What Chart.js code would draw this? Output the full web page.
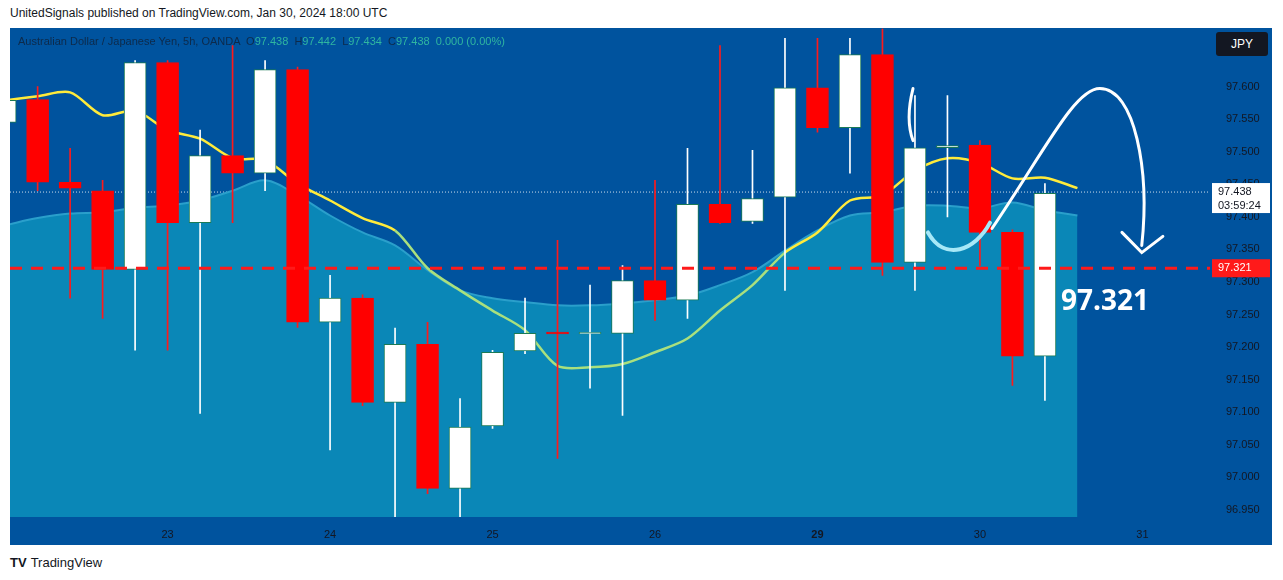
<!DOCTYPE html>
<html lang="en">
<head>
<meta charset="UTF-8">
<title>AUDJPY 5h</title>
<style>
  body { margin:0; background:#fff; font-family:"Liberation Sans", Arial, sans-serif; }
  #page { position:relative; width:1283px; height:580px; }
  #title { position:absolute; left:10px; top:6px; font-size:12px; color:#131722; }
  #pane { position:absolute; left:10px; top:28px; width:1262px; height:517px; background:#00539e; }
  #myChart { position:absolute; left:0; top:-14px; }
  #legend { position:absolute; left:18px; top:35px; font-size:11px; color:#0d2a4a; z-index:2; }
  #legend span { color:#2fb6a0; }
  #jpy { position:absolute; left:1216px; top:32px; width:52px; height:24px; background:#131722; color:#fff;
         font-size:12px; line-height:24px; text-align:center; border-radius:3px; z-index:2; }
  #logo { position:absolute; left:10px; top:555px; font-size:13px; color:#131722; }
  #logo b { font-weight:900; margin-right:4px; }
</style>
</head>
<body>
<div id="page">
  <div id="title">UnitedSignals published on TradingView.com, Jan 30, 2024 18:00 UTC</div>
  <div id="pane"><canvas id="myChart" width="1262" height="531"></canvas></div>
  <div id="legend">Australian Dollar / Japanese Yen, 5h, OANDA &nbsp;O<span>97.438</span> &nbsp;H<span>97.442</span> &nbsp;L<span>97.434</span> &nbsp;C<span>97.438</span> &nbsp;<span>0.000 (0.00%)</span></div>
  <div id="jpy">JPY</div>
  <div id="logo"><b>TV</b>TradingView</div>
</div>
<script src="https://cdn.jsdelivr.net/npm/chart.js"></script>
<script>
// candles, one per 5h bar
const opens  = [97.545,97.580,97.453,97.440,97.319,97.637,97.391,97.494,97.467,97.626,97.238,97.275,97.115,97.204,96.983,97.079,97.194,97.223,97.220,97.221,97.302,97.272,97.419,97.393,97.430,97.598,97.537,97.649,97.330,97.506,97.510,97.376,97.186];
const highs  = [97.590,97.600,97.505,97.456,97.640,97.640,97.533,97.663,97.640,97.630,97.310,97.280,97.229,97.238,97.121,97.195,97.275,97.364,97.295,97.325,97.456,97.505,97.663,97.502,97.674,97.674,97.674,97.689,97.586,97.586,97.517,97.380,97.451];
const lows   = [97.530,97.440,97.275,97.244,97.195,97.195,97.098,97.391,97.440,97.230,97.042,97.110,96.939,96.975,96.939,97.075,97.190,97.029,97.137,97.095,97.241,97.244,97.390,97.390,97.287,97.530,97.467,97.310,97.287,97.400,97.325,97.141,97.118];
const closes = [97.579,97.453,97.444,97.319,97.637,97.391,97.494,97.467,97.626,97.238,97.275,97.115,97.204,96.983,97.077,97.192,97.221,97.220,97.221,97.302,97.272,97.419,97.391,97.428,97.598,97.537,97.649,97.330,97.506,97.508,97.376,97.186,97.436];
// moving average line
const maLine = [97.579,97.585,97.591,97.556,97.563,97.533,97.520,97.490,97.487,97.451,97.425,97.398,97.379,97.321,97.287,97.256,97.226,97.171,97.169,97.174,97.192,97.213,97.256,97.295,97.345,97.376,97.425,97.433,97.471,97.490,97.483,97.459,97.460,97.444];
// shaded area upper edge
const areaLine = [97.387,97.398,97.405,97.407,97.414,97.417,97.425,97.440,97.456,97.433,97.402,97.376,97.356,97.318,97.287,97.275,97.269,97.264,97.264,97.267,97.272,97.279,97.295,97.315,97.348,97.379,97.402,97.407,97.417,97.417,97.413,97.422,97.410,97.402];
const dayLabels = ['23','24','25','26','29','30','31'];
const dayIdx = [5,10,15,20,25,30,35];
const priceTicks = [97.60,97.55,97.50,97.45,97.40,97.35,97.30,97.25,97.20,97.15,97.10,97.05,97.00,96.95];
const lastPrice = 97.438, levelPrice = 97.321;

const isUp = opens.map((o,i) => closes[i] >= o);
const bodies = opens.map((o,i) => ({x:i, y:[Math.min(o,closes[i]), Math.max(o,closes[i]) + (Math.abs(o-closes[i])<0.002?0.0015:0)]}));
const wicks = opens.map((o,i) => ({x:i, y:[lows[i], highs[i]]}));

const overlay = {
  id:'overlay',
  beforeDatasetsDraw(chart){
    const {ctx, chartArea:a, scales:{x,y}} = chart;
    ctx.save();
    ctx.strokeStyle='rgba(255,255,255,0.8)'; ctx.lineWidth=1; ctx.setLineDash([1,2]);
    ctx.beginPath(); ctx.moveTo(a.left,y.getPixelForValue(lastPrice)); ctx.lineTo(a.right,y.getPixelForValue(lastPrice)); ctx.stroke();
    ctx.restore();
  },
  afterDatasetsDraw(chart){
    const {ctx, chartArea:a, scales:{x,y}} = chart;
    const P = (i,p) => [x.getPixelForValue(i), y.getPixelForValue(p)];
    ctx.save();
    // red level
    ctx.strokeStyle='#ff1a1a'; ctx.lineWidth=3; ctx.setLineDash([12,9]);
    const ly = y.getPixelForValue(levelPrice);
    ctx.beginPath(); ctx.moveTo(a.left,ly); ctx.lineTo(a.right,ly); ctx.stroke();
    ctx.setLineDash([]);
    // light blue hook
    ctx.strokeStyle='#a6e8f7'; ctx.lineWidth=4; ctx.lineCap='round';
    let s=P(28.4,97.376), c1=P(28.92,97.330), c2=P(29.85,97.348), e=P(30.31,97.391);
    ctx.beginPath(); ctx.moveTo(...s); ctx.bezierCurveTo(...c1,...c2,...e); ctx.stroke();
    // white arrow
    ctx.strokeStyle='#fff'; ctx.lineWidth=3;
    s=P(30.37,97.382);
    ctx.beginPath(); ctx.moveTo(...s);
    ctx.bezierCurveTo(...P(32.0,97.502),...P(32.92,97.597),...P(33.69,97.597));
    ctx.bezierCurveTo(...P(34.77,97.597),...P(35.23,97.471),...P(34.98,97.356));
    ctx.stroke();
    const tip=P(34.98,97.345);
    ctx.beginPath(); ctx.moveTo(...P(34.37,97.376)); ctx.lineTo(...tip); ctx.lineTo(...P(35.63,97.370)); ctx.stroke();
    ctx.beginPath(); ctx.moveTo(...P(27.94,97.597)); ctx.quadraticCurveTo(...P(27.7,97.55),...P(27.94,97.517)); ctx.stroke();
    // big label
    ctx.fillStyle='#fff'; ctx.font='bold 28px "Open Sans"'; ctx.textAlign='center'; ctx.textBaseline='middle';
    ctx.fillText(levelPrice.toFixed(3), ...P(33.85,97.269));
    // axis boxes
    const bx=a.right+2, bw=chart.width-bx-2;
    const ty=y.getPixelForValue(lastPrice);
    ctx.fillStyle='#fff'; ctx.fillRect(bx,ty-9,bw,30);
    ctx.fillStyle='#131722'; ctx.font='11px "Liberation Sans"'; ctx.textAlign='left';
    ctx.fillText(lastPrice.toFixed(3),bx+6,ty); ctx.fillText('03:59:24',bx+6,ty+14);
    ctx.fillStyle='#ff1a1a'; ctx.fillRect(bx,ly-9,bw,18);
    ctx.fillStyle='#fff'; ctx.fillText(levelPrice.toFixed(3),bx+6,ly);
    ctx.restore();
  }
};

const ctx = document.getElementById('myChart').getContext('2d');
new Chart(ctx, {
  data:{
    datasets:[
      { type:'line', data: areaLine.map((v,i)=>({x:i,y:v})), fill:'start', backgroundColor:'#0a87b7',
        borderColor:'#2a9fcb', borderWidth:2, pointRadius:0, tension:0.35, order:5 },
      { type:'line', data: maLine.map((v,i)=>({x:i,y:v})), borderWidth:2.5, pointRadius:0, tension:0.3, order:4,
        borderColor:'#ffeb3b',
        segment:{ borderColor: c => (c.p0DataIndex>=12 && c.p0DataIndex<24) ? '#a9e07e' : '#ffeb3b' } },
      { type:'bar', data: wicks, barThickness:1, grouped:false, order:3,
        backgroundColor: isUp.map(u => u ? '#ffffff' : '#ff1a1a') },
      { type:'bar', data: bodies, barThickness:22, grouped:false, order:2,
        backgroundColor: isUp.map(u => u ? '#ffffff' : '#ff0000'),
        borderColor: isUp.map(u => u ? '#1b7a55' : '#ff0000'), borderWidth:1, borderSkipped:false }
    ]
  },
  options:{
    responsive:false, animation:false,
    layout:{padding:0},
    plugins:{ legend:{display:false}, tooltip:{enabled:false} },
    scales:{
      x:{ type:'linear', min:0.15, max:37.08, offset:false,
          grid:{display:false}, border:{display:false},
          afterBuildTicks: s => { s.ticks = dayIdx.map(v=>({value:v})); },
          afterFit: s => { s.height = 28; },
          ticks:{ color:'#131722', font: c => ({size:11, family:'Liberation Sans', weight: c.tick && c.tick.value===25 ? 'bold':'normal'}),
                  autoSkip:false, maxRotation:0, callback: v => dayLabels[dayIdx.indexOf(v)] } },
      y:{ position:'right', min:96.939, max:97.689,
          grid:{display:false}, border:{display:false},
          afterBuildTicks: s => { s.ticks = priceTicks.map(v=>({value:v})); },
          afterFit: s => { s.width = 62; },
          ticks:{ color:'#131722', font:{size:11, family:'Liberation Sans'}, padding:8,
                  callback: v => v.toFixed(3) } }
    }
  },
  plugins:[overlay]
});
</script>
</body>
</html>
